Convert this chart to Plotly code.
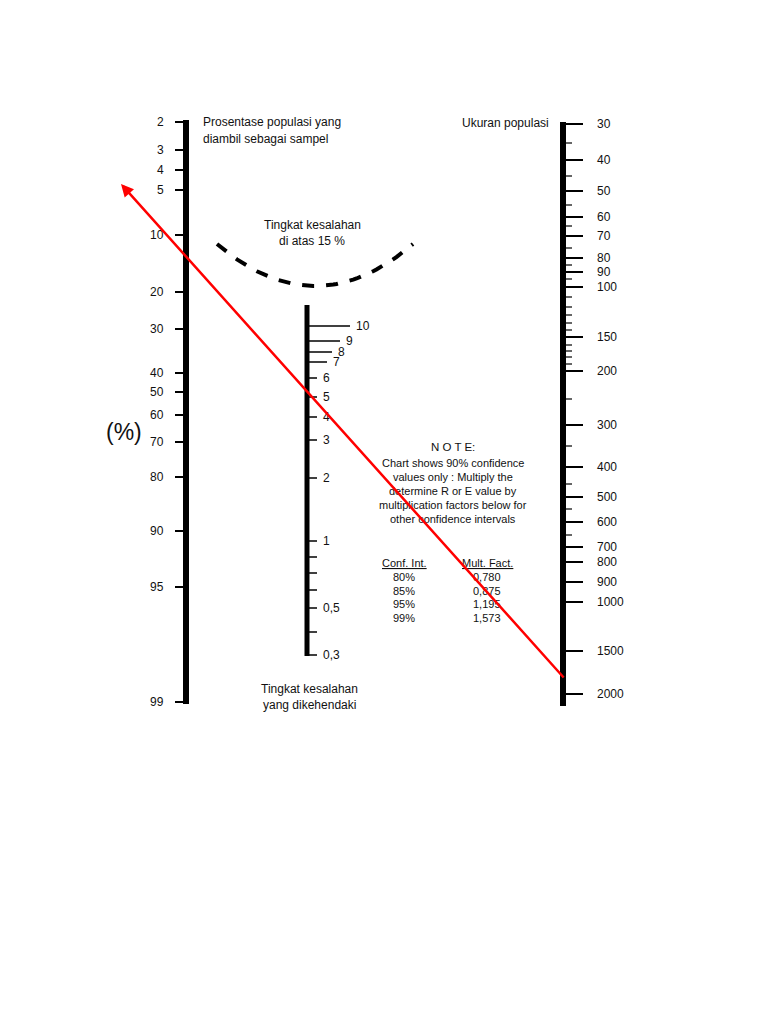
import numpy as np
import plotly.graph_objects as go

# Left scale: percentage of population sampled
left_labels = ["2","3","4","5","10","20","30","40","50","60","70","80","90","95","99"]
left_pos = [122,150,170,190,235,292,329,373,392,415,442,477,531,587,702]

# Middle scale: desired error level
mid_labels = ["10","9","8","7","6","5","4","3","2","1","","","","0,5","","0,3"]
mid_pos = [326,341,352,362,378,397,417,440,478,541,557,573,590,608,632,655]
mid_len = [43,33,25,20,10,10,10,10,10,10,10,10,10,10,10,10]

# Right scale: population size
right_labels = ["30","40","50","60","70","80","90","100","150","200","300","400","500","600","700","800","900","1000","1500","2000"]
right_pos = [124,160,191,217,236,258,272,287,337,371,425,467,497,522,547,562,582,602,651,694]
right_minor = [143,176,205,226,248,265,279,297,307,315,323,330,345,351,357,364,399,446,484,509,535]

notes_rows = [("80%","0,780"),("85%","0,875"),("95%","1,195"),("99%","1,573")]

FONT = "Liberation Sans, Arial, sans-serif"
fig = go.Figure()
shapes = []
ann = []

def line(x0,y0,x1,y1,w=2,c="black",dash=None):
    d = dict(type="line",x0=x0,y0=y0,x1=x1,y1=y1,line=dict(color=c,width=w))
    if dash: d["line"]["dash"]=dash
    shapes.append(d)

def text(x,y,t,size=12,anchor="center"):
    ann.append(dict(x=x,y=y,text=t,showarrow=False,font=dict(family=FONT,size=size,color="#111"),
                    xanchor=anchor,yanchor="middle"))

# Left axis
line(186,120,186,704,w=6)
for lab,p in zip(left_labels,left_pos):
    line(175,p,186,p,w=2)
    text(166,p,lab,anchor="right")
text(201,122,"Prosentase populasi yang",anchor="left")
text(201,139,"diambil sebagai sampel",anchor="left")
text(124,432,"(%)",size=23)

# Middle axis
line(307,305,307,656,w=5)
for lab,p,l in zip(mid_labels,mid_pos,mid_len):
    line(307,p,307+l,p,w=1.5)
    if lab:
        text(307+l+4,p,lab,anchor="left")
text(312,225,"Tingkat kesalahan",anchor="center")
text(312,241,"di atas 15 %",anchor="center")
text(309,689,"Tingkat kesalahan",anchor="center")
text(309,705,"yang dikehendaki",anchor="center")

# Dashed arc
t = np.linspace(-1,1,60)
ax = 315 + 98*t
ay = 286 - 42*t**2
fig.add_trace(go.Scatter(x=ax,y=ay,mode="lines",line=dict(color="black",width=4,dash="dash"),hoverinfo="skip"))

# Right axis
line(563,122,563,706,w=6)
for lab,p in zip(right_labels,right_pos):
    line(563,p,583,p,w=2)
    text(595,p,lab,anchor="left")
for p in right_minor:
    line(563,p,572,p,w=1.2)
text(505,123,"Ukuran populasi",anchor="center")

# Note
text(453,447,"N O T E:",size=11.5)
for i,s in enumerate(["Chart shows 90% confidence","values only : Multiply the",
                      "determine R or E value by","multiplication factors below for",
                      "other confidence intervals"]):
    text(453,463+i*14,s,size=11)
text(404,563,"<u>Conf. Int.</u>",size=11)
text(487,563,"<u>Mult. Fact.</u>",size=11)
for i,(a,b) in enumerate(notes_rows):
    text(404,577+i*13.5,a,size=11)
    text(487,577+i*13.5,b,size=11)

# Red line with arrow
ann.append(dict(x=121,y=184,ax=565,ay=679,xref="x",yref="y",axref="x",ayref="y",
                showarrow=True,arrowhead=2,arrowsize=1,arrowwidth=2.5,arrowcolor="red",text=""))

fig.update_layout(width=768,height=1024,margin=dict(l=0,r=0,t=0,b=0),
                  plot_bgcolor="white",paper_bgcolor="white",showlegend=False,
                  shapes=shapes,annotations=ann,
                  xaxis=dict(range=[8,776],visible=False,fixedrange=True),
                  yaxis=dict(range=[1032,8],visible=False,fixedrange=True))
fig.write_html("out.html")
